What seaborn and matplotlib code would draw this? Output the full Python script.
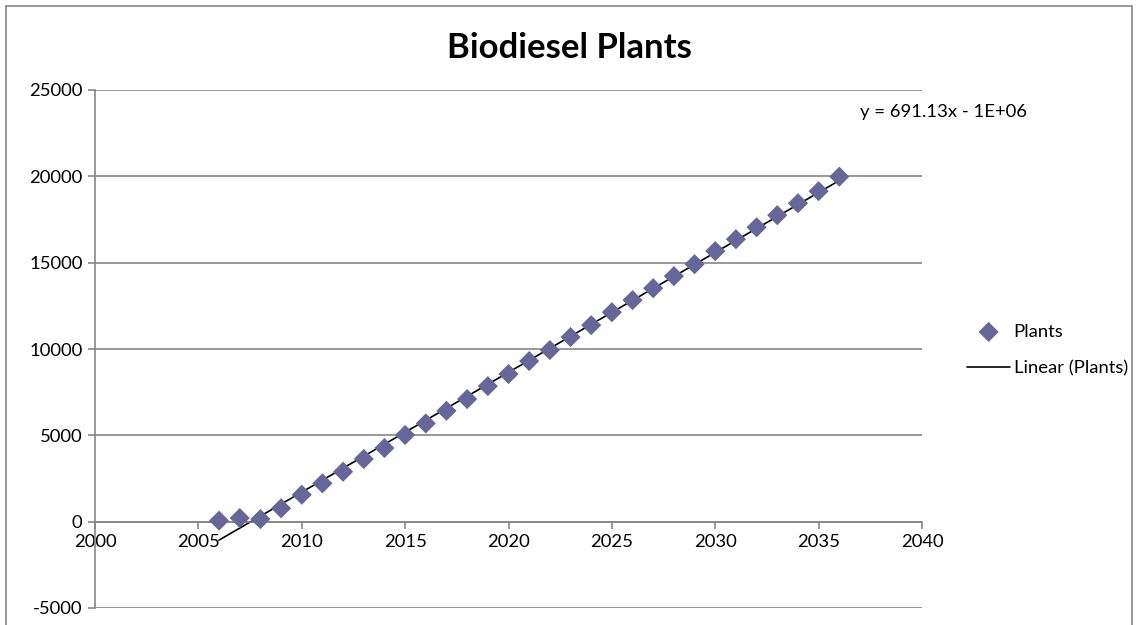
import matplotlib
matplotlib.use("Agg")
import matplotlib.pyplot as plt
import numpy as np
import pandas as pd
import seaborn as sns
from matplotlib.patches import Rectangle

# data
years = [2006, 2007, 2008, 2009, 2010, 2011, 2012, 2013, 2014, 2015,
         2016, 2017, 2018, 2019, 2020, 2021, 2022, 2023, 2024, 2025,
         2026, 2027, 2028, 2029, 2030, 2031, 2032, 2033, 2034, 2035, 2036]
plants = [60, 210, 150, 775, 1560, 2220, 2890, 3630, 4265, 5020,
          5690, 6420, 7100, 7850, 8550, 9300, 9940, 10690, 11380, 12130,
          12830, 13520, 14220, 14910, 15670, 16360, 17050, 17750, 18440, 19140, 19980]
x_ticks = [2000, 2005, 2010, 2015, 2020, 2025, 2030, 2035, 2040]
y_ticks = [-5000, 0, 5000, 10000, 15000, 20000, 25000]
title = "Biodiesel Plants"
equation = "y = 691.13x - 1E+06"

df = pd.DataFrame({"Year": years, "Plants": plants})

sns.set_style("white")
plt.rcParams["font.family"] = ["Lato", "DejaVu Sans"]
plt.rcParams["axes.unicode_minus"] = False
plt.rcParams["text.color"] = "black"

grid_color = "#868686"
marker_color = "#666699"
font_size = 13.3

fig = plt.figure(figsize=(11.38, 6.25), dpi=100)
ax = fig.add_axes([95 / 1138, 1 - 608 / 625, (922 - 95) / 1138, (608 - 90) / 625])

sns.scatterplot(data=df, x="Year", y="Plants", marker="D", s=105, color=marker_color,
                edgecolor="none", label="Plants", ax=ax, zorder=3)
sns.regplot(data=df, x="Year", y="Plants", scatter=False, ci=None, truncate=True,
            label="Linear (Plants)", line_kws={"color": "black", "lw": 1.2}, ax=ax)

ax.set_xlim(2000, 2040)
ax.set_ylim(-5000, 25000)
ax.set_xticks(x_ticks)
ax.set_yticks(y_ticks)
ax.set_xlabel("")
ax.set_ylabel("")
ax.yaxis.grid(True, color=grid_color, lw=1.2)
ax.set_axisbelow(True)

for side in ["top", "right"]:
    ax.spines[side].set_visible(False)
ax.spines["left"].set_color(grid_color)
ax.spines["left"].set_linewidth(1.2)
ax.spines["bottom"].set_position(("data", 0))
ax.spines["bottom"].set_color(grid_color)
ax.spines["bottom"].set_linewidth(1.2)
ax.tick_params(axis="both", which="major", direction="out", length=5, width=1.2,
               color=grid_color, labelsize=font_size, labelcolor="black", pad=4)
ax.tick_params(axis="x", pad=4)
ax.tick_params(axis="y", left=True)
ax.tick_params(axis="x", bottom=True)

if ax.legend_ is not None:
    ax.legend_.remove()
handles, labels = ax.get_legend_handles_labels()
fig.legend(handles, labels, loc="center left", bbox_to_anchor=(960 / 1138, 1 - 350 / 625),
           frameon=False, fontsize=font_size, handlelength=2.3, handletextpad=0.2,
           labelspacing=1.1, borderaxespad=0, labelcolor="black")

fig.text(0.5, 1 - 48 / 625, title, ha="center", va="center", fontsize=25,
         fontweight="bold", color="black")
fig.text(860 / 1138, 1 - 112 / 625, equation, ha="left", va="center",
         fontsize=font_size, color="black")

# chart area border
fig.patches.append(Rectangle((6 / 1138, -0.05), 1126 / 1138, 1.05 - 6 / 625,
                             transform=fig.transFigure, fill=False,
                             edgecolor=grid_color, lw=1.2))

fig.savefig("out.png", dpi=100)
